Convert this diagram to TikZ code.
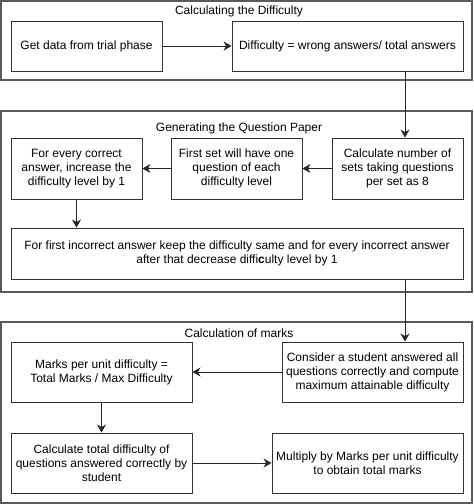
\documentclass[tikz,border=0pt]{standalone}
\usepackage{fontspec}
\setmainfont{Liberation Sans}
\usetikzlibrary{arrows.meta}
\begin{document}
\begin{tikzpicture}[x=1pt,y=-1pt,
  box/.style={draw=black!80,line width=0.9pt,fill=white,align=center,inner sep=0pt,
    font=\fontsize{12}{14}\selectfont},
  container/.style={draw={rgb,255:red,90;green,90;blue,90},line width=1.4pt},
  ttl/.style={font=\fontsize{12}{14}\selectfont,inner sep=0pt},
  arr/.style={draw=black!85,line width=0.9pt,-{Stealth[length=8pt,width=9pt,inset=2.5pt]}}]
\useasboundingbox (0,0) rectangle (474,504);
% containers
\draw[container] (1,1) rectangle (472,80);
\draw[container] (1,111) rectangle (472,292);
\draw[container] (1,322) rectangle (472,503);
\node[ttl] (t1) at (239,11) {Calculating the Difficulty};
\node[ttl] (t2) at (239,128) {Generating the Question Paper};
\node[ttl] (t3) at (239,333) {Calculation of marks};
% boxes
\node[box,minimum width=151,minimum height=50] (A) at (86.5,46) {Get data from trial phase};
\node[box,minimum width=231,minimum height=50] (B) at (347.5,46) {Difficulty = wrong answers/ total answers};
\node[box,minimum width=131,minimum height=61] (D) at (76.5,168.5) {For every correct\\answer, increase the\\difficulty level by 1};
\node[box,minimum width=131,minimum height=61] (E) at (236.5,168.5) {First set will have one\\question of each\\difficulty level};
\node[box,minimum width=131,minimum height=61] (C) at (397.5,168.5) {Calculate number of\\sets taking questions\\per set as 8};
\node[box,minimum width=452,minimum height=51] (F) at (237,253.5) {For first incorrect answer keep the difficulty same and for every incorrect answer\\after that decrease diffi\textbf{c}ulty level by 1};
\node[box,minimum width=181,minimum height=60] (H) at (101.5,372) {Marks per unit difficulty =\\Total Marks / Max Difficulty};
\node[box,minimum width=181,minimum height=60] (G) at (372.5,372) {Consider a student answered all\\questions correctly and compute\\maximum attainable difficulty};
\node[box,minimum width=181,minimum height=60] (I) at (101.5,463) {Calculate total difficulty of\\questions answered correctly by\\student};
\node[box,minimum width=191,minimum height=60] (J) at (367.5,463) {Multiply by Marks per unit difficulty\\to obtain total marks};
\coordinate (xr) at (405,0);
% connectors
\draw[arr] (A) -- (B);
\draw[arr] (B.south -| xr) -- (C.north -| xr);
\draw[arr] (C) -- (E);
\draw[arr] (E) -- (D);
\draw[arr] (D) -- (D |- F.north);
\draw[arr] (F.south -| xr) -- (G.north -| xr);
\draw[arr] (G) -- (H);
\draw[arr] (H) -- (I);
\draw[arr] (I) -- (J);
\end{tikzpicture}
\end{document}
